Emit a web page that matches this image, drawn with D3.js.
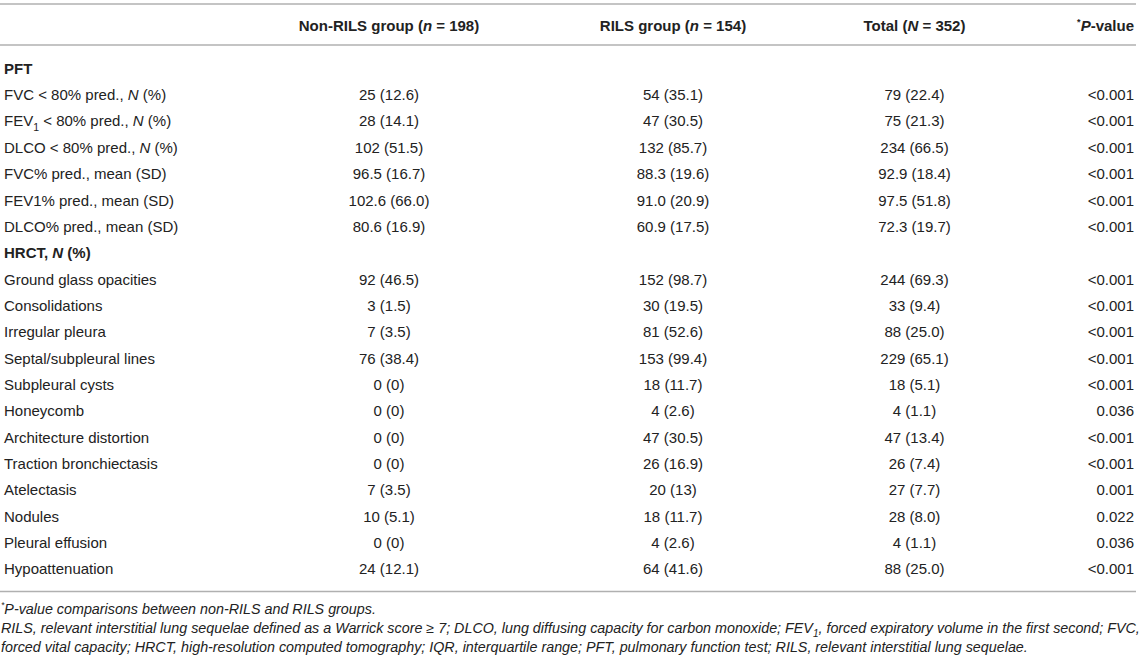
<!DOCTYPE html>
<html>
<head>
<meta charset="utf-8">
<script src="https://cdn.jsdelivr.net/npm/d3@7"></script>
<style>
  html, body { margin: 0; padding: 0; background: #fff; }
  svg { display: block; font-family: "Liberation Sans", Arial, Helvetica, sans-serif; }
</style>
</head>
<body>
<svg id="chart" width="1146" height="660"></svg>
<script>
// ---- data ----
const columnHeaders = ["Non-RILS group (*n* = 198)", "RILS group (*n* = 154)", "Total (*N* = 352)", "^*^*P*-value"];
const rowLabels = [
  "#PFT",
  "FVC < 80% pred., *N* (%)",
  "FEV_1 < 80% pred., *N* (%)",
  "DLCO < 80% pred., *N* (%)",
  "FVC% pred., mean (SD)",
  "FEV1% pred., mean (SD)",
  "DLCO% pred., mean (SD)",
  "#HRCT, *N* (%)",
  "Ground glass opacities",
  "Consolidations",
  "Irregular pleura",
  "Septal/subpleural lines",
  "Subpleural cysts",
  "Honeycomb",
  "Architecture distortion",
  "Traction bronchiectasis",
  "Atelectasis",
  "Nodules",
  "Pleural effusion",
  "Hypoattenuation"
];
const nonRils = ["", "25 (12.6)", "28 (14.1)", "102 (51.5)", "96.5 (16.7)", "102.6 (66.0)", "80.6 (16.9)",
  "", "92 (46.5)", "3 (1.5)", "7 (3.5)", "76 (38.4)", "0 (0)", "0 (0)", "0 (0)", "0 (0)", "7 (3.5)", "10 (5.1)", "0 (0)", "24 (12.1)"];
const rils = ["", "54 (35.1)", "47 (30.5)", "132 (85.7)", "88.3 (19.6)", "91.0 (20.9)", "60.9 (17.5)",
  "", "152 (98.7)", "30 (19.5)", "81 (52.6)", "153 (99.4)", "18 (11.7)", "4 (2.6)", "47 (30.5)", "26 (16.9)", "20 (13)", "18 (11.7)", "4 (2.6)", "64 (41.6)"];
const total = ["", "79 (22.4)", "75 (21.3)", "234 (66.5)", "92.9 (18.4)", "97.5 (51.8)", "72.3 (19.7)",
  "", "244 (69.3)", "33 (9.4)", "88 (25.0)", "229 (65.1)", "18 (5.1)", "4 (1.1)", "47 (13.4)", "26 (7.4)", "27 (7.7)", "28 (8.0)", "4 (1.1)", "88 (25.0)"];
const pValues = ["", "<0.001", "<0.001", "<0.001", "<0.001", "<0.001", "<0.001",
  "", "<0.001", "<0.001", "<0.001", "<0.001", "<0.001", "0.036", "<0.001", "<0.001", "0.001", "0.022", "0.036", "<0.001"];
const footnotes = [
  "^*^P-value comparisons between non-RILS and RILS groups.",
  "RILS, relevant interstitial lung sequelae defined as a Warrick score ≥ 7; DLCO, lung diffusing capacity for carbon monoxide; FEV_1, forced expiratory volume in the first second; FVC,",
  "forced vital capacity; HRCT, high-resolution computed tomography; IQR, interquartile range; PFT, pulmonary function test; RILS, relevant interstitial lung sequelae."
];

// ---- layout ----
const svg = d3.select("#chart");
const textColor = "#222";
const ruleColor = "#b0b0b0";
const fontSize = 15;

const colKeys = ["non", "rils", "total", "p"];
const colX = d3.scaleOrdinal().domain(colKeys).range([389, 673, 914.5, 1134]);
const colAnchor = d3.scaleOrdinal().domain(colKeys).range(["middle", "middle", "middle", "end"]);
const y = d3.scaleLinear().domain([0, rowLabels.length - 1]).range([68.5, 569]);

// markup: *x* italic, _d subscript, ^x^ superscript
function addRich(textSel, str, size) {
  const parts = str.split(/(\*[^*]+\*|_\d|\^[^^]+\^)/).filter(s => s.length);
  let shifted = 0;
  parts.forEach(p => {
    const t = textSel.append("tspan");
    if (p.startsWith("^") && p.endsWith("^") && p.length > 1) {
      t.text(p.slice(1, -1)).attr("font-size", size * 0.6).attr("dy", -size * 0.4 - shifted);
      shifted = -size * 0.4;
    } else if (p.startsWith("_")) {
      t.text(p.slice(1)).attr("font-size", size * 0.7).attr("dy", size * 0.28 - shifted);
      shifted = size * 0.28;
    } else {
      let txt = p, italic = false;
      if (p.startsWith("*") && p.endsWith("*") && p.length > 2) { txt = p.slice(1, -1); italic = true; }
      t.text(txt);
      if (italic) t.attr("font-style", "italic");
      if (shifted !== 0) { t.attr("dy", -shifted); shifted = 0; }
    }
  });
}

// rules
const rules = [4, 45, 591.5];
svg.selectAll("line.rule").data(rules).join("line")
  .attr("class", "rule")
  .attr("x1", 0).attr("x2", 1136)
  .attr("y1", d => d).attr("y2", d => d)
  .attr("stroke", ruleColor).attr("stroke-width", 1.6);

// header
const headerY = 26;
colKeys.forEach((k, i) => {
  const t = svg.append("text")
    .attr("x", colX(k)).attr("y", headerY + 5.3)
    .attr("text-anchor", colAnchor(k))
    .attr("font-size", fontSize).attr("font-weight", "bold")
    .attr("fill", textColor);
  addRich(t, columnHeaders[i], fontSize);
});

// rows
const cols = { non: nonRils, rils: rils, total: total, p: pValues };
rowLabels.forEach((lab, i) => {
  const isSection = lab.startsWith("#");
  const t = svg.append("text")
    .attr("x", 4).attr("y", y(i) + 5.3)
    .attr("font-size", fontSize)
    .attr("font-weight", isSection ? "bold" : null)
    .attr("fill", textColor);
  addRich(t, isSection ? lab.slice(1) : lab, fontSize);
  colKeys.forEach(k => {
    const v = cols[k][i];
    if (!v) return;
    svg.append("text")
      .attr("x", colX(k)).attr("y", y(i) + 5.3)
      .attr("text-anchor", colAnchor(k))
      .attr("font-size", fontSize)
      .attr("fill", textColor)
      .text(v);
  });
});

// footnotes: common font size fitted to the widest line
const footY = [609, 628, 647];
const fs0 = 12.5;
const footTexts = footnotes.map((f, i) => {
  const t = svg.append("text")
    .attr("x", 1).attr("y", footY[i] + 4.5)
    .attr("font-size", fs0).attr("font-style", "italic")
    .attr("fill", textColor);
  addRich(t, f, fs0);
  return t;
});
const w2 = footTexts[1].node().getComputedTextLength();
const nfs = fs0 * 1140 / w2;
footTexts.forEach(t => {
  t.attr("font-size", nfs);
  t.selectAll("tspan").each(function () {
    const s = d3.select(this);
    const cur = +s.attr("font-size");
    if (cur) s.attr("font-size", cur * nfs / fs0);
    const dy = s.attr("dy");
    if (dy) s.attr("dy", +dy * nfs / fs0);
  });
});
</script>
</body>
</html>
